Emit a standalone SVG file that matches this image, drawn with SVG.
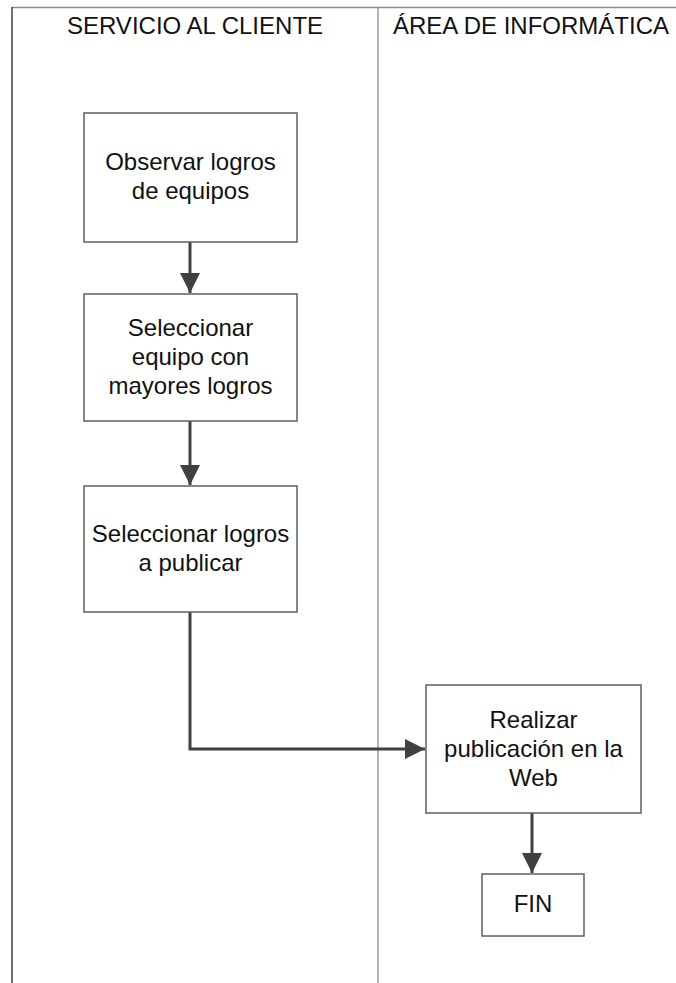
<svg xmlns="http://www.w3.org/2000/svg" width="676" height="983" viewBox="0 0 676 983">
  <style>
    .lane { fill: none; stroke-width: 1.5; }
    .box { fill: #ffffff; stroke: #5f5f5f; stroke-width: 1.5; }
    .txt { font-family: "Liberation Sans", Arial, sans-serif; font-size: 24px; fill: #111111; text-anchor: middle; }
    .flow { fill: none; stroke: #404040; stroke-width: 3; }
  </style>
  <defs>
    <marker id="arrow" viewBox="0 0 20 20" refX="20" refY="10" markerWidth="20" markerHeight="20" markerUnits="userSpaceOnUse" orient="auto">
      <path d="M0,0 L20,10 L0,20 Z" fill="#404040"/>
    </marker>
  </defs>

  <rect width="676" height="983" fill="#ffffff"/>

  <!-- swimlanes -->
  <g id="lanes">
    <line class="lane" x1="12" y1="7.5" x2="676" y2="7.5" stroke="#8a8a8a"/>
    <line class="lane" x1="12" y1="7" x2="12" y2="983" stroke="#404040" stroke-width="2"/>
    <line class="lane" x1="378" y1="7" x2="378" y2="983" stroke="#9a9a9a"/>
    <text class="txt" x="195" y="34">SERVICIO AL CLIENTE</text>
    <text class="txt" x="531" y="34">ÁREA DE INFORMÁTICA</text>
  </g>

  <!-- connectors -->
  <g id="connectors">
    <line class="flow" x1="190" y1="242" x2="190" y2="293" marker-end="url(#arrow)"/>
    <line class="flow" x1="190" y1="421" x2="190" y2="485" marker-end="url(#arrow)"/>
    <polyline class="flow" points="190,612 190,749 425,749" marker-end="url(#arrow)"/>
    <line class="flow" x1="532" y1="813" x2="532" y2="873" marker-end="url(#arrow)"/>
  </g>

  <g id="observar">
    <rect class="box" x="84" y="113" width="213" height="129"/>
    <text class="txt" x="190.5" y="170">Observar logros</text>
    <text class="txt" x="190.5" y="199">de equipos</text>
  </g>

  <g id="seleccionar-equipo">
    <rect class="box" x="84" y="294" width="213" height="127"/>
    <text class="txt" x="190.5" y="336">Seleccionar</text>
    <text class="txt" x="190.5" y="365">equipo con</text>
    <text class="txt" x="190.5" y="394">mayores logros</text>
  </g>

  <g id="seleccionar-logros">
    <rect class="box" x="84" y="486" width="213" height="126"/>
    <text class="txt" x="190.5" y="542">Seleccionar logros</text>
    <text class="txt" x="190.5" y="571">a publicar</text>
  </g>

  <g id="publicacion">
    <rect class="box" x="426" y="685" width="215" height="128"/>
    <text class="txt" x="533.5" y="728">Realizar</text>
    <text class="txt" x="533.5" y="757">publicación en la</text>
    <text class="txt" x="533.5" y="786">Web</text>
  </g>

  <g id="fin">
    <rect class="box" x="482" y="874" width="102" height="62"/>
    <text class="txt" x="533" y="912">FIN</text>
  </g>
</svg>
